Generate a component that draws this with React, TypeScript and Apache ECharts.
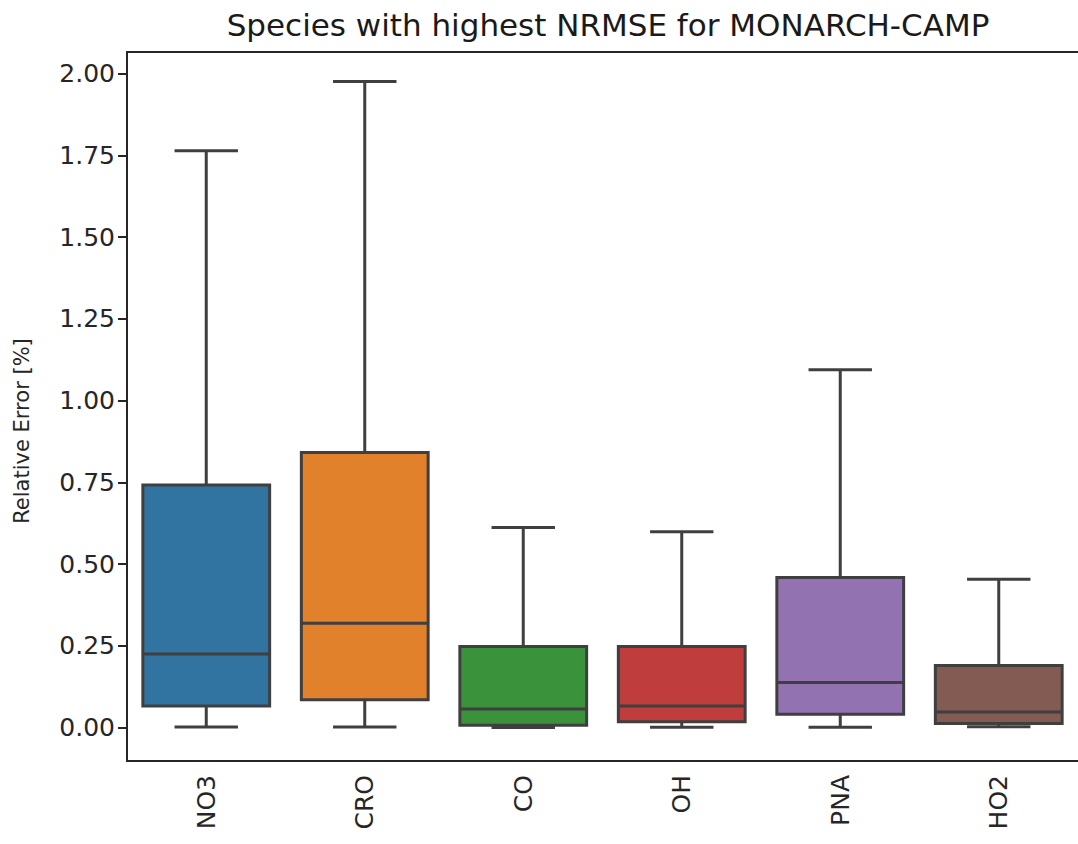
import React, { useEffect, useRef } from "react";
import * as echarts from "echarts";

const categories = ["NO3", "CRO", "CO", "OH", "PNA", "HO2"];
const mins = [0.002, 0.002, 0.0005, 0.001, 0.001, 0.003];
const q1s = [0.066, 0.085, 0.007, 0.018, 0.041, 0.013];
const medians = [0.225, 0.319, 0.057, 0.066, 0.138, 0.048];
const q3s = [0.742, 0.841, 0.248, 0.248, 0.459, 0.19];
const maxs = [1.764, 1.976, 0.612, 0.599, 1.094, 0.454];
const colors = ["#3274a1", "#e1812c", "#3a923a", "#c03d3e", "#9372b2", "#845b53"];
const yTicks = [0, 0.25, 0.5, 0.75, 1.0, 1.25, 1.5, 1.75, 2.0];

const EDGE = "#3f3f3f";
const FONT = "DejaVu Sans";

export default function App() {
  const ref = useRef<HTMLDivElement>(null);
  useEffect(() => {
    if (!ref.current) return;
    const chart = echarts.init(ref.current, null, { renderer: "svg" });
    const data = categories.map((c, i) => [i, mins[i], q1s[i], medians[i], q3s[i], maxs[i]]);
    chart.setOption({
      animation: false,
      backgroundColor: "#ffffff",
      title: {
        text: "Species with highest NRMSE for MONARCH-CAMP",
        left: 603,
        top: 4,
        textAlign: "center",
        textStyle: { fontFamily: FONT, fontSize: 31, fontWeight: "normal", color: "#1a1a1a" },
      },
      grid: { left: 127, right: 0, top: 52, bottom: 83 },
      xAxis: [
        {
          type: "category",
          data: categories,
          boundaryGap: true,
          axisLine: { onZero: false, lineStyle: { color: "#262626", width: 2 } },
          axisTick: { alignWithLabel: true, length: 9, lineStyle: { color: "#262626", width: 2 } },
          axisLabel: {
            rotate: 90,
            margin: 14,
            fontFamily: FONT,
            fontSize: 25,
            color: "#262626",
          },
          splitLine: { show: false },
        },
        {
          type: "category",
          data: categories,
          position: "top",
          axisLine: { onZero: false, lineStyle: { color: "#262626", width: 2 } },
          axisTick: { show: false },
          axisLabel: { show: false },
        },
      ],
      yAxis: {
        type: "value",
        min: -0.102,
        max: 2.066,
        splitLine: { show: false },
        axisLine: { show: true, onZero: false, lineStyle: { color: "#262626", width: 2 } },
        axisTick: { show: true, length: 9, customValues: yTicks, lineStyle: { color: "#262626", width: 2 } },
        axisLabel: {
          customValues: yTicks,
          formatter: (v: number) => v.toFixed(2),
          margin: 12,
          fontFamily: FONT,
          fontSize: 25,
          color: "#262626",
        },
      },
      graphic: [
        {
          type: "text",
          x: 22,
          y: 431,
          rotation: Math.PI / 2,
          style: {
            text: "Relative Error [%]",
            fontFamily: FONT,
            fontSize: 21,
            fill: "#262626",
            align: "center",
            verticalAlign: "middle",
          },
        },
      ],
      series: [
        {
          type: "custom",
          xAxisIndex: 0,
          data,
          renderItem: (params: any, api: any) => {
            const idx = api.value(0);
            const vMin = api.value(1);
            const vQ1 = api.value(2);
            const vMed = api.value(3);
            const vQ3 = api.value(4);
            const vMax = api.value(5);
            const [cx, yQ1] = api.coord([idx, vQ1]);
            const yQ3 = api.coord([idx, vQ3])[1];
            const yMed = api.coord([idx, vMed])[1];
            const yMin = api.coord([idx, vMin])[1];
            const yMax = api.coord([idx, vMax])[1];
            const band = api.size([1, 0])[0];
            const bw = band * 0.8;
            const cap = bw / 4;
            const ls = { stroke: EDGE, lineWidth: 3 };
            return {
              type: "group",
              children: [
                { type: "line", shape: { x1: cx, y1: yQ1, x2: cx, y2: yMin }, style: ls },
                { type: "line", shape: { x1: cx, y1: yQ3, x2: cx, y2: yMax }, style: ls },
                {
                  type: "rect",
                  shape: { x: cx - bw / 2, y: yQ3, width: bw, height: yQ1 - yQ3 },
                  style: { fill: colors[idx], stroke: EDGE, lineWidth: 3 },
                },
                { type: "line", shape: { x1: cx - bw / 2, y1: yMed, x2: cx + bw / 2, y2: yMed }, style: ls },
                { type: "line", shape: { x1: cx - cap, y1: yMin, x2: cx + cap, y2: yMin }, style: ls },
                { type: "line", shape: { x1: cx - cap, y1: yMax, x2: cx + cap, y2: yMax }, style: ls },
              ],
            };
          },
        },
      ],
    });
    return () => chart.dispose();
  }, []);
  return (
    <div
      ref={ref}
      style={{ position: "fixed", left: 0, top: 0, width: 1078, height: 844, background: "#fff" }}
    />
  );
}
